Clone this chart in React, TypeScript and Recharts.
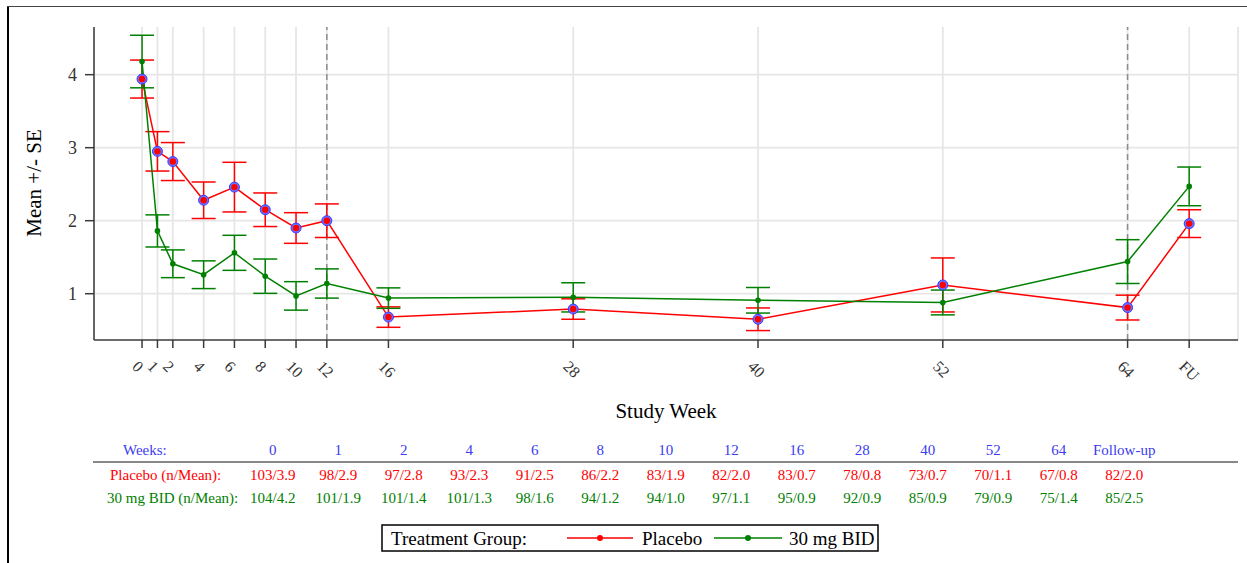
import React from "react";
import {
  ComposedChart,
  Line,
  XAxis,
  YAxis,
  CartesianGrid,
  ErrorBar,
  ReferenceLine,
} from "recharts";

// ---- data ----
const weeks = [0, 1, 2, 4, 6, 8, 10, 12, 16, 28, 40, 52, 64, 68];
const weekTickLabels = ["0", "1", "2", "4", "6", "8", "10", "12", "16", "28", "40", "52", "64", "FU"];
const placeboMean = [3.94, 2.95, 2.81, 2.28, 2.46, 2.15, 1.9, 2.0, 0.68, 0.79, 0.65, 1.12, 0.81, 1.96];
const placeboSE = [0.26, 0.27, 0.26, 0.25, 0.34, 0.23, 0.21, 0.23, 0.14, 0.14, 0.155, 0.37, 0.17, 0.19];
const bidMean = [4.18, 1.86, 1.41, 1.26, 1.56, 1.24, 0.97, 1.14, 0.94, 0.95, 0.91, 0.88, 1.44, 2.47];
const bidSE = [0.36, 0.22, 0.19, 0.19, 0.24, 0.235, 0.195, 0.2, 0.14, 0.2, 0.175, 0.17, 0.3, 0.265];
const yTicks = [1, 2, 3, 4];
const refWeeks = [12, 64];

const tableWeeks = ["0", "1", "2", "4", "6", "8", "10", "12", "16", "28", "40", "52", "64", "Follow-up"];
const placeboN = [103, 98, 97, 93, 91, 86, 83, 82, 83, 78, 73, 70, 67, 82];
const placeboTableMean = ["3.9", "2.9", "2.8", "2.3", "2.5", "2.2", "1.9", "2.0", "0.7", "0.8", "0.7", "1.1", "0.8", "2.0"];
const bidN = [104, 101, 101, 101, 98, 94, 94, 97, 95, 92, 85, 79, 75, 85];
const bidTableMean = ["4.2", "1.9", "1.4", "1.3", "1.6", "1.2", "1.0", "1.1", "0.9", "0.9", "0.9", "0.9", "1.4", "2.5"];

const chartData = weeks.map((w, i) => ({
  week: w,
  placebo: placeboMean[i],
  placeboSE: placeboSE[i],
  bid: bidMean[i],
  bidSE: bidSE[i],
}));

const RED = "#ff0000";
const GREEN = "#008000";
const BLUE = "#3c3cf0";
const SERIF = "'Liberation Serif', 'Times New Roman', serif";
const AXIS = "#3a3a3a";
const Y_AXIS_WIDTH = 94;

const XTick = (props: any) => {
  const { x, y, payload } = props;
  const idx = weeks.indexOf(payload.value);
  const label = idx >= 0 ? weekTickLabels[idx] : String(payload.value);
  const px = x - 7;
  const py = y + 15.5;
  return (
    <text
      x={px}
      y={py}
      textAnchor="start"
      dominantBaseline="central"
      transform={`rotate(45 ${px} ${py})`}
      fontSize={16}
      fill="#333"
      fontFamily={SERIF}
    >
      {label}
    </text>
  );
};

const YTick = (props: any) => {
  const { y, payload } = props;
  const tx = Y_AXIS_WIDTH - 17;
  return (
    <text
      x={tx}
      y={y}
      textAnchor="end"
      dominantBaseline="central"
      fontSize={18}
      fill="#333"
      fontFamily={SERIF}
    >
      {payload.value}
    </text>
  );
};

const PlaceboDot = (props: any) => {
  const { cx, cy, index } = props;
  if (cx == null || cy == null) return <g key={`pd-${index}`} />;
  return (
    <g key={`pd-${index}`}>
      <circle cx={cx} cy={cy} r={5} fill="#7070ff" stroke="#3a3aff" strokeWidth={1} />
      <circle cx={cx} cy={cy} r={3.2} fill={RED} />
    </g>
  );
};

const BidDot = (props: any) => {
  const { cx, cy, index } = props;
  if (cx == null || cy == null) return <g key={`bd-${index}`} />;
  return <circle key={`bd-${index}`} cx={cx} cy={cy} r={2.8} fill={GREEN} />;
};

const colX = (i: number) => 272.7 + 65.5 * i;

export default function App() {
  return (
    <div
      style={{
        position: "absolute",
        left: 0,
        top: 0,
        width: 1247,
        height: 563,
        background: "#fff",
        overflow: "hidden",
      }}
    >
      <div style={{ position: "absolute", left: 0, top: 0 }}>
        <ComposedChart
          width={1247}
          height={400}
          data={chartData}
          margin={{ top: 27, right: 9, left: 0, bottom: 0 }}
        >
          <CartesianGrid stroke="#e6e6e6" strokeWidth={1.8} horizontalValues={yTicks} />
          <XAxis
            dataKey="week"
            type="number"
            domain={[-3.12, 71.17]}
            allowDataOverflow
            ticks={weeks}
            interval={0}
            height={60}
            tickSize={8}
            tickMargin={0}
            tick={<XTick />}
            axisLine={{ stroke: AXIS, strokeWidth: 1.5 }}
            tickLine={{ stroke: AXIS, strokeWidth: 1.5 }}
          />
          <YAxis
            type="number"
            domain={[0.366, 4.653]}
            allowDataOverflow
            ticks={yTicks}
            width={Y_AXIS_WIDTH}
            tickSize={9}
            tick={<YTick />}
            axisLine={{ stroke: AXIS, strokeWidth: 1.5 }}
            tickLine={{ stroke: AXIS, strokeWidth: 1.5 }}
          />
          {refWeeks.map((w) => (
            <ReferenceLine key={w} x={w} stroke="#8c8c8c" strokeWidth={1.5} strokeDasharray="6 4" />
          ))}
          <Line
            type="linear"
            dataKey="placebo"
            stroke={RED}
            strokeWidth={1.5}
            dot={PlaceboDot}
            activeDot={false}
            isAnimationActive={false}
          >
            <ErrorBar dataKey="placeboSE" direction="y" width={12} stroke={RED} strokeWidth={1.5} />
          </Line>
          <Line
            type="linear"
            dataKey="bid"
            stroke={GREEN}
            strokeWidth={1.5}
            dot={BidDot}
            activeDot={false}
            isAnimationActive={false}
          >
            <ErrorBar dataKey="bidSE" direction="y" width={12} stroke={GREEN} strokeWidth={1.5} />
          </Line>
        </ComposedChart>
      </div>
      <svg
        width={1247}
        height={563}
        style={{ position: "absolute", left: 0, top: 0, pointerEvents: "none" }}
        fontFamily={SERIF}
      >
        {/* frame */}
        <line x1={8} y1={6} x2={8} y2={563} stroke="#000" strokeWidth={2} />
        <line x1={7} y1={6.5} x2={1247} y2={6.5} stroke="#444" strokeWidth={1} />
        {/* axis titles */}
        <text
          x={34}
          y={183}
          textAnchor="middle"
          dominantBaseline="central"
          transform="rotate(-90 34 183)"
          fontSize={21}
          fill="#000"
        >
          Mean +/- SE
        </text>
        <text x={666} y={411} textAnchor="middle" dominantBaseline="central" fontSize={21} fill="#000">
          Study Week
        </text>
        {/* table */}
        <text x={123} y={455} fontSize={15} fill={BLUE}>
          Weeks:
        </text>
        {tableWeeks.map((w, i) => (
          <text key={`tw-${i}`} x={colX(i)} y={455} textAnchor="middle" fontSize={15} fill={BLUE}>
            {w}
          </text>
        ))}
        <line x1={93} y1={462} x2={1238} y2={462} stroke="#888" strokeWidth={2} />
        <text x={110} y={480} fontSize={15} fill={RED}>
          Placebo (n/Mean):
        </text>
        {placeboN.map((n, i) => (
          <text key={`pn-${i}`} x={colX(i)} y={480} textAnchor="middle" fontSize={15} fill={RED}>
            {`${n}/${placeboTableMean[i]}`}
          </text>
        ))}
        <text x={107} y={503} fontSize={15} fill={GREEN}>
          30 mg BID (n/Mean):
        </text>
        {bidN.map((n, i) => (
          <text key={`bn-${i}`} x={colX(i)} y={503} textAnchor="middle" fontSize={15} fill={GREEN}>
            {`${n}/${bidTableMean[i]}`}
          </text>
        ))}
        {/* legend */}
        <rect x={382} y={525} width={496} height={26} fill="#fff" stroke="#000" strokeWidth={1.5} />
        <text x={391} y={538} dominantBaseline="central" fontSize={19} fill="#000">
          Treatment Group:
        </text>
        <line x1={567} y1={538} x2={633} y2={538} stroke={RED} strokeWidth={1.5} />
        <circle cx={600} cy={538} r={3} fill={RED} />
        <text x={642} y={538} dominantBaseline="central" fontSize={19} fill="#000">
          Placebo
        </text>
        <line x1={714} y1={538} x2={782} y2={538} stroke={GREEN} strokeWidth={1.5} />
        <circle cx={748} cy={538} r={3} fill={GREEN} />
        <text x={789} y={538} dominantBaseline="central" fontSize={19} fill="#000">
          30 mg BID
        </text>
      </svg>
    </div>
  );
}
